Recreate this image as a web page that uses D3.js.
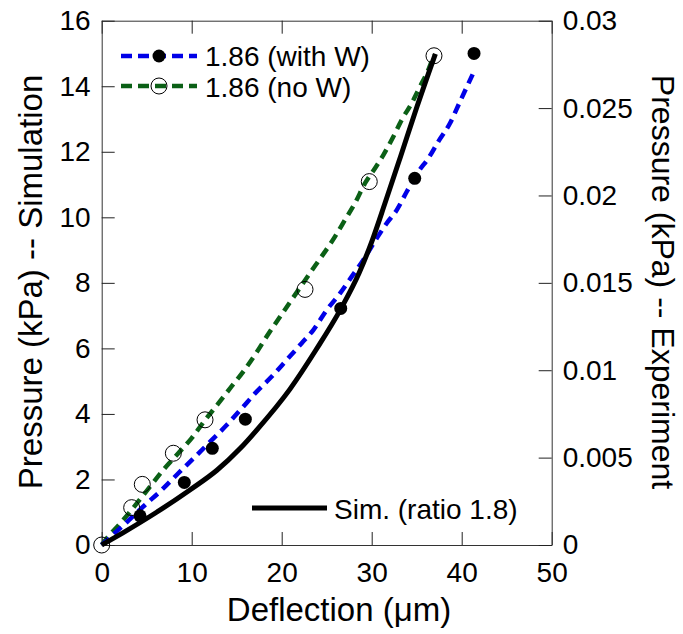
<!DOCTYPE html>
<html>
<head>
<meta charset="utf-8">
<script src="https://cdn.jsdelivr.net/npm/d3@7"></script>
<style>
  html, body { margin: 0; padding: 0; background: #fff; }
  svg { display: block; }
  text { font-family: "Liberation Sans", Arial, Helvetica, sans-serif; fill: #000; }
</style>
</head>
<body>
<svg id="chart" width="683" height="634"></svg>
<script>
// ---------------- data ----------------
const xTicks = [0, 10, 20, 30, 40, 50];
const yLeftTicks = [0, 2, 4, 6, 8, 10, 12, 14, 16];
const yRightTicks = [0, 0.005, 0.01, 0.015, 0.02, 0.025, 0.03];
const yRightTickLabels = ["0", "0.005", "0.01", "0.015", "0.02", "0.025", "0.03"];

const xTitle = "Deflection (\u03bcm)";
const yLeftTitle = "Pressure (kPa) -- Simulation";
const yRightTitle = "Pressure (kPa) -- Experiment";
const seriesNames = ["1.86 (with W)", "1.86 (no W)", "Sim. (ratio 1.8)"];

// Simulation curve (left axis units)
const simX = [0, 0.56, 2.4, 6.1, 9.8, 12.8, 15.4, 17.2, 20.9, 23.8, 26.6, 28.6, 30.0, 31.5, 33.2, 35.0, 37.08];
const simY = [0, 0.09, 0.38, 1.0, 1.68, 2.28, 2.95, 3.50, 4.75, 5.95, 7.22, 8.30, 9.25, 10.45, 11.85, 13.35, 14.99];

// Fit "1.86 (with W)" (blue dashed), in left-axis units
const withWLineX = [0, 2.4, 4.81, 6.67, 8.51, 10.37, 12.22, 13.89, 15.56, 17.22, 18.89, 20.56, 22.22, 23.51, 25.0, 26.48, 27.78, 29.07, 30.56, 31.67, 32.78, 33.89, 35.18, 36.29, 37.40, 38.70, 39.81, 41.4];
const withWLineY = [0, 0.60, 1.22, 1.68, 2.19, 2.69, 3.20, 3.66, 4.17, 4.68, 5.14, 5.65, 6.16, 6.56, 7.17, 7.68, 8.19, 8.70, 9.36, 9.82, 10.22, 10.78, 11.39, 11.80, 12.31, 12.87, 13.53, 14.47];

// Fit "1.86 (no W)" (green dashed), in left-axis units
const noWLineX = [0, 0.56, 2.22, 5.37, 6.84, 8.51, 10.0, 11.48, 12.96, 14.26, 15.73, 17.03, 18.33, 20.9, 23.4, 25.92, 27.03, 28.14, 29.26, 30.37, 31.29, 32.4, 33.33, 34.44, 35.37, 36.29, 36.92];
const noWLineY = [0, 0.20, 0.71, 1.78, 2.29, 2.80, 3.26, 3.81, 4.32, 4.78, 5.29, 5.80, 6.36, 7.40, 8.40, 9.41, 9.92, 10.43, 11.04, 11.50, 11.90, 12.46, 12.97, 13.48, 13.99, 14.50, 14.95];

// Experimental markers (expressed in left-axis units; right axis = left * 0.03/16)
const withWPtsX = [4.26, 9.18, 12.29, 15.96, 26.56, 34.78, 41.37];
const withWPtsY = [0.89, 1.91, 2.95, 3.84, 7.22, 11.19, 15.0];
const noWPtsX = [0, 3.33, 4.51, 7.96, 11.48, 22.59, 29.73, 36.92];
const noWPtsY = [0, 1.14, 1.85, 2.80, 3.82, 7.80, 11.09, 14.93];

// ---------------- layout ----------------
const svg = d3.select("#chart");
const X0 = 101.7, X1 = 551.7, Y0 = 545, Y1 = 20.7;
const x = d3.scaleLinear().domain([0, 50]).range([X0, X1]);
const y = d3.scaleLinear().domain([0, 16]).range([Y0, Y1]);
const yR = d3.scaleLinear().domain([0, 0.03]).range([Y0, Y1]);

const BLUE = "#0000e8", GREEN = "#0b6016";
const FONT = "\"Liberation Sans\", Arial, Helvetica, sans-serif";
const TICK_FS = 28, TITLE_FS = 33;

function styleAxis(g) {
  g.attr("font-family", FONT).attr("font-size", TICK_FS);
  g.select(".domain").attr("stroke", "#333").attr("stroke-width", 1);
  g.selectAll(".tick line").attr("stroke", "#222").attr("stroke-width", 1);
  g.selectAll(".tick text").attr("fill", "#000");
}

// bottom axis
svg.append("g").attr("transform", `translate(0,${Y0})`)
  .call(d3.axisBottom(x).tickValues(xTicks).tickSizeInner(-13).tickSizeOuter(0).tickPadding(17).tickFormat(d3.format("d")))
  .call(styleAxis);
// top axis (ticks only)
svg.append("g").attr("transform", `translate(0,${Y1})`)
  .call(d3.axisTop(x).tickValues(xTicks).tickSizeInner(-13).tickSizeOuter(0).tickFormat(""))
  .call(styleAxis);
// left axis
svg.append("g").attr("transform", `translate(${X0},0)`)
  .call(d3.axisLeft(y).tickValues(yLeftTicks).tickSizeInner(-13).tickSizeOuter(0).tickPadding(11).tickFormat(d3.format("d")))
  .call(styleAxis);
// right axis
svg.append("g").attr("transform", `translate(${X1},0)`)
  .call(d3.axisRight(yR).tickValues(yRightTicks).tickSizeInner(-13).tickSizeOuter(0).tickPadding(11)
    .tickFormat((d, i) => yRightTickLabels[i]))
  .call(styleAxis);

// titles
svg.append("text").attr("x", 339).attr("y", 621).attr("text-anchor", "middle")
  .attr("font-size", TITLE_FS).text(xTitle);
svg.append("text").attr("transform", "translate(42,282) rotate(-90)").attr("text-anchor", "middle")
  .attr("font-size", TITLE_FS).text(yLeftTitle);
svg.append("text").attr("transform", "translate(652,282) rotate(90)").attr("text-anchor", "middle")
  .attr("font-size", 32).text(yRightTitle);

// ---------------- lines ----------------
const lineGen = d3.line().x(d => x(d[0])).y(d => y(d[1])).curve(d3.curveMonotoneX);
const zip = (a, b) => a.map((v, i) => [v, b[i]]);

const plot = svg.append("g");
plot.append("path").datum(zip(noWLineX, noWLineY)).attr("d", lineGen)
  .attr("fill", "none").attr("stroke", GREEN).attr("stroke-width", 4.5).attr("stroke-dasharray", "10,6.5");
plot.append("path").datum(zip(withWLineX, withWLineY)).attr("d", lineGen)
  .attr("fill", "none").attr("stroke", BLUE).attr("stroke-width", 4.5).attr("stroke-dasharray", "10,6.5");
plot.append("path").datum(zip(simX, simY)).attr("d", lineGen)
  .attr("fill", "none").attr("stroke", "#000").attr("stroke-width", 5);

// markers
plot.selectAll("circle.open").data(zip(noWPtsX, noWPtsY)).join("circle").attr("class", "open")
  .attr("cx", d => x(d[0])).attr("cy", d => y(d[1])).attr("r", 8)
  .attr("fill", "none").attr("stroke", "#000").attr("stroke-width", 1);
plot.selectAll("circle.filled").data(zip(withWPtsX, withWPtsY)).join("circle").attr("class", "filled")
  .attr("cx", d => x(d[0])).attr("cy", d => y(d[1])).attr("r", 6.5)
  .attr("fill", "#000");

// ---------------- legends ----------------
const leg = svg.append("g").attr("font-size", TICK_FS);
// row 1: with W
leg.append("line").attr("x1", 121).attr("x2", 197).attr("y1", 56).attr("y2", 56)
  .attr("stroke", BLUE).attr("stroke-width", 4.5).attr("stroke-dasharray", "11,6");
leg.append("circle").attr("cx", 159).attr("cy", 56).attr("r", 6.5).attr("fill", "#000");
leg.append("text").attr("x", 205).attr("y", 66).text(seriesNames[0]);
// row 2: no W
leg.append("line").attr("x1", 121).attr("x2", 197).attr("y1", 86).attr("y2", 86)
  .attr("stroke", GREEN).attr("stroke-width", 4.5).attr("stroke-dasharray", "11,6");
leg.append("circle").attr("cx", 159).attr("cy", 86).attr("r", 8).attr("fill", "none")
  .attr("stroke", "#000").attr("stroke-width", 1);
leg.append("text").attr("x", 205).attr("y", 97).text(seriesNames[1]);
// sim legend
leg.append("line").attr("x1", 252).attr("x2", 327).attr("y1", 508).attr("y2", 508)
  .attr("stroke", "#000").attr("stroke-width", 5);
leg.append("text").attr("x", 334).attr("y", 519).text(seriesNames[2]);
</script>
</body>
</html>
